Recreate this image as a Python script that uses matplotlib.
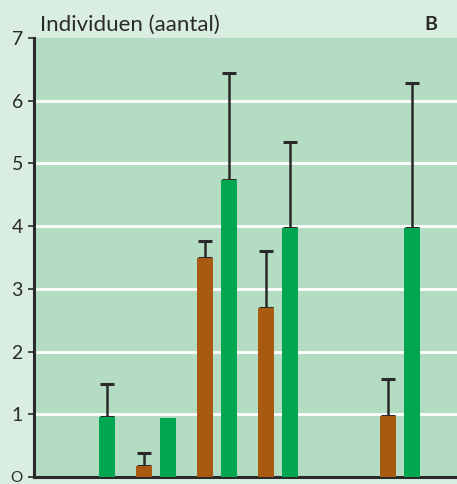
import numpy as np
import matplotlib.pyplot as plt

plt.rcParams['font.family'] = ['Lato', 'DejaVu Sans']

# data (group 1 and 5 have no orange / no bars)
groups = [1, 2, 3, 4, 5, 6]
orange = [np.nan, 0.17, 3.49, 2.70, np.nan, 0.97]
orange_err = [np.nan, 0.21, 0.27, 0.90, np.nan, 0.59]
green = [0.96, 0.94, 4.73, 3.97, np.nan, 3.97]
green_err = [0.52, 0.0, 1.71, 1.37, np.nan, 2.31]
yticks = [0, 1, 2, 3, 4, 5, 6, 7]
yticklabels = ['O', '1', '2', '3', '4', '5', '6', '7']

c_orange = '#a85a10'
c_green = '#00a650'
c_dark = '#2a2a2a'

fig = plt.figure(figsize=(4.57, 4.84), dpi=100)
fig.patch.set_facecolor('#d9ede0')
ax = fig.add_axes([0.0744, 0.0145, 0.9256, 0.907])
ax.set_facecolor('#b4dcc3')

x = np.array(groups, dtype=float)
w = 0.262
off = 0.197

for xi, v, e in zip(x - off, orange, orange_err):
    if np.isnan(v):
        continue
    ax.bar(xi, v, w, color=c_orange, linewidth=0, zorder=3)
    if e > 0:
        ax.errorbar(xi, v, yerr=[[0], [e]], fmt='none', ecolor=c_dark,
                    elinewidth=1.8, capsize=5, capthick=2.2, zorder=2)

for xi, v, e in zip(x + off, green, green_err):
    if np.isnan(v):
        continue
    ax.bar(xi, v, w, color=c_green, linewidth=0, zorder=3)
    if e > 0:
        ax.errorbar(xi, v, yerr=[[0], [e]], fmt='none', ecolor=c_dark,
                    elinewidth=1.8, capsize=5, capthick=2.2, zorder=2)

for yv in yticks[1:-1]:
    ax.axhline(yv, color='white', lw=2, zorder=1)

ax.set_xlim(0, 6.93)
ax.set_ylim(0, 7)
ax.set_xticks([])
ax.set_yticks(yticks)
ax.set_yticklabels(yticklabels, fontsize=14, color=c_dark)
ax.get_yticklabels()[0].set_fontsize(11)
ax.tick_params(axis='y', length=4, width=1.2, color=c_dark, pad=4)

ax.spines['right'].set_visible(False)
ax.spines['top'].set_visible(False)
ax.spines['left'].set_color(c_dark)
ax.spines['left'].set_linewidth(2.2)
ax.spines['bottom'].set_color(c_dark)
ax.spines['bottom'].set_linewidth(2.2)

fig.text(40 / 457, 1 - 25 / 484, 'Individuen (aantal)', fontsize=16,
         color=c_dark, va='center', ha='left')
fig.text(437 / 457, 1 - 25 / 484, 'B', fontsize=14, fontweight='bold',
         color=c_dark, va='center', ha='right')

fig.savefig('out.png', dpi=100, facecolor=fig.get_facecolor())
